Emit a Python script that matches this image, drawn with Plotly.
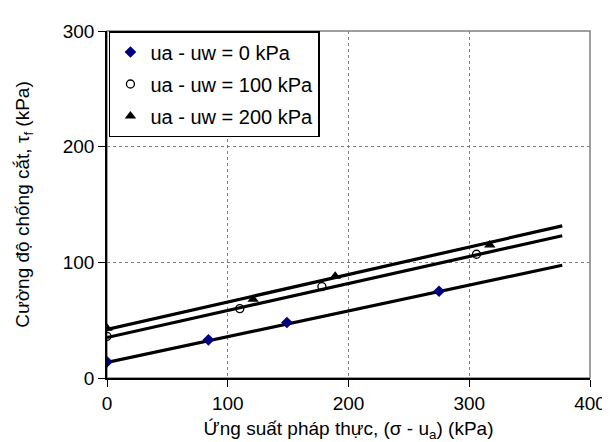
import plotly.graph_objects as go

# Measured data points
x0 = [0, 84, 149, 275]
y0 = [14, 33, 48, 75]
x1 = [0, 110, 178, 306]
y1 = [36, 60, 79, 107]
x2 = [0, 121, 189, 317]
y2 = [43, 68, 88, 115]

# Fitted trend lines (endpoints)
fit_x = [0, 377]
fit_y0 = [13.5, 97.5]
fit_y1 = [35, 123]
fit_y2 = [42, 131.5]

names = ["ua - uw = 0 kPa", "ua - uw = 100 kPa", "ua - uw = 200 kPa"]

x_ticks = [0, 100, 200, 300, 400]
y_ticks = [0, 100, 200, 300]

fig = go.Figure()
for fy in [fit_y0, fit_y1, fit_y2]:
    fig.add_trace(go.Scatter(x=fit_x, y=fy, mode="lines",
                             line=dict(color="black", width=3.2),
                             showlegend=False, hoverinfo="skip"))

fig.add_trace(go.Scatter(x=x0, y=y0, mode="markers", name=names[0], legendgroup="a",
                         marker=dict(symbol="diamond", size=9, color="#000080")))
fig.add_trace(go.Scatter(x=x1, y=y1, mode="markers", name=names[1], legendgroup="b",
                         marker=dict(symbol="circle-open", size=8, color="black",
                                     line=dict(width=1.3, color="black"))))
fig.add_trace(go.Scatter(x=x2, y=y2, mode="markers", name=names[2], legendgroup="c",
                         marker=dict(symbol="triangle-up", size=10, color="black")))

font = "Liberation Sans, Arial, sans-serif"
fig.update_layout(
    width=610, height=442,
    margin=dict(l=99, r=22, t=23, b=72),
    paper_bgcolor="white", plot_bgcolor="white",
    font=dict(family=font, size=19, color="black"),
    showlegend=True,
    legend=dict(x=0.004, y=1, xanchor="left", yanchor="top",
                bgcolor="white", bordercolor="black", borderwidth=1.5,
                font=dict(size=20), tracegroupgap=3, itemwidth=30),
    xaxis=dict(range=[0, 400], tickvals=x_ticks, showgrid=True,
               gridcolor="#808080", griddash="dot", gridwidth=1,
               showline=True, linecolor="black", linewidth=1.5,
               ticks="outside", ticklen=7, tickcolor="black",
               zeroline=False, mirror=False,
               tickfont=dict(size=19),
               title=dict(text="Ứng suất pháp thực, (σ - u<sub>a</sub>) (kPa)",
                          font=dict(size=19), standoff=9)),
    yaxis=dict(range=[0, 300], tickvals=y_ticks, showgrid=True,
               gridcolor="#808080", griddash="dot", gridwidth=1,
               showline=True, linecolor="black", linewidth=1.5,
               ticks="outside", ticklen=7, tickcolor="black",
               zeroline=False,
               tickfont=dict(size=19),
               title=dict(text="Cường độ chống cắt, τ<sub>f</sub> (kPa)",
                          font=dict(size=19), standoff=28)),
)
# gray frame top/right
fig.add_shape(type="rect", xref="paper", yref="paper", x0=0, y0=0, x1=1, y1=1,
              line=dict(color="#808080", width=1.5), layer="below")
fig.write_html("out.html")
